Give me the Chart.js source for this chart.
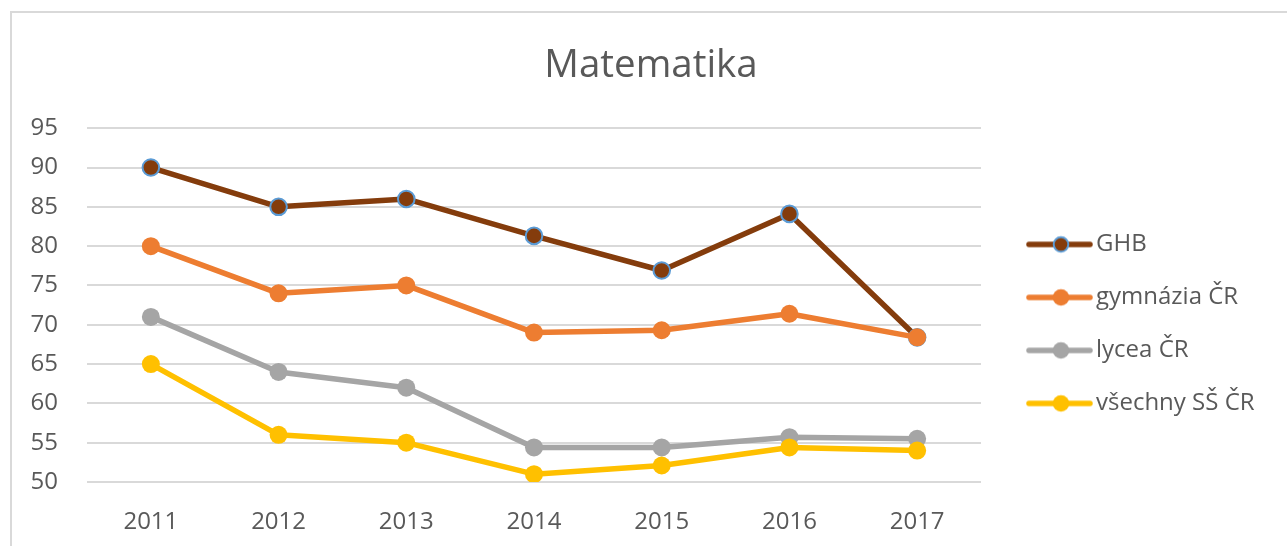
<!DOCTYPE html>
<html lang="cs">

<head>
    <meta charset="UTF-8">
    <title>Matematika</title>
    <script src="https://cdn.jsdelivr.net/npm/chart.js"></script>
    <style>
        html, body { margin: 0; padding: 0; background: #fff; }
        .frame {
            position: absolute; left: 10px; top: 11px; width: 1400px; height: 600px;
            border-left: 2px solid #d9d9d9; border-top: 2px solid #d9d9d9;
        }
        .wrap { position: absolute; left: 0; top: 0; width: 1287px; height: 546px; }
    </style>
</head>

<body>
    <div class="frame"></div>
    <div class="wrap">
        <canvas id="myChart" width="1287" height="546"></canvas>
    </div>

    <script>
        // data
        const years = ['2011', '2012', '2013', '2014', '2015', '2016', '2017'];
        const ghb = [90, 85, 86, 81.3, 76.9, 84.1, 68.4];
        const gymnazia = [80, 74, 75, 69, 69.3, 71.4, 68.4];
        const lycea = [71, 64, 62, 54.4, 54.4, 55.7, 55.5];
        const vsechnySS = [65, 56, 55, 51, 52.1, 54.4, 54];
        const seriesNames = ['GHB', 'gymnázia ČR', 'lycea ČR', 'všechny SŠ ČR'];
        const yMin = 50, yMax = 95, yStep = 5;

        const colors = ['#843C0C', '#ED7D31', '#A5A5A5', '#FFC000'];
        const textColor = '#595959';
        const font = "'Open Sans', 'DejaVu Sans', sans-serif";

        // small line + marker picture for the legend
        function legendIcon(color, ring) {
            const c = document.createElement('canvas');
            c.width = 92;
            c.height = 22;
            const ctx = c.getContext('2d');
            ctx.strokeStyle = color;
            ctx.lineWidth = 5.5;
            ctx.lineCap = 'round';
            ctx.beginPath();
            ctx.moveTo(28, 11);
            ctx.lineTo(89, 11);
            ctx.stroke();
            ctx.beginPath();
            ctx.arc(60, 11, ring ? 7.3 : 8.3, 0, Math.PI * 2);
            ctx.fillStyle = color;
            ctx.fill();
            if (ring) {
                ctx.lineWidth = 2;
                ctx.strokeStyle = ring;
                ctx.stroke();
            }
            return c;
        }

        const icons = [
            legendIcon(colors[0], '#5B9BD5'),
            legendIcon(colors[1]),
            legendIcon(colors[2]),
            legendIcon(colors[3])
        ];

        function makeSet(i, values) {
            return {
                label: seriesNames[i],
                data: values,
                borderColor: colors[i],
                backgroundColor: colors[i],
                borderWidth: 5.5,
                borderCapStyle: 'round',
                borderJoinStyle: 'round',
                tension: 0,
                fill: false,
                pointRadius: i === 0 ? 8.3 : 9,
                pointBackgroundColor: colors[i],
                pointBorderColor: i === 0 ? '#5B9BD5' : colors[i],
                pointBorderWidth: i === 0 ? 2 : 0,
                order: 4 - i
            };
        }

        const myChart = new Chart(document.getElementById('myChart'), {
            type: 'line',
            data: {
                labels: years,
                datasets: [
                    makeSet(0, ghb),
                    makeSet(1, gymnazia),
                    makeSet(2, lycea),
                    makeSet(3, vsechnySS)
                ]
            },
            options: {
                responsive: false,
                animation: false,
                layout: { padding: { left: 26, right: 11, top: 0, bottom: 0 } },
                scales: {
                    x: {
                        offset: true,
                        grid: { display: false },
                        border: { display: false },
                        ticks: { color: textColor, font: { family: font, size: 24 }, padding: 18 },
                        afterFit: (scale) => { scale.height = 64; }
                    },
                    y: {
                        min: yMin,
                        max: yMax,
                        border: { display: false },
                        grid: { color: '#d9d9d9', lineWidth: 2, drawTicks: false },
                        ticks: { stepSize: yStep, color: textColor, font: { family: font, size: 24 }, padding: 29 },
                        afterFit: (scale) => { scale.width = 61; }
                    }
                },
                plugins: {
                    title: {
                        display: true,
                        text: 'Matematika',
                        color: textColor,
                        font: { family: font, size: 38.5, weight: 'normal' },
                        padding: { top: 43, bottom: 39 }
                    },
                    legend: {
                        position: 'right',
                        fullSize: false,
                        maxWidth: 295,
                        title: { display: true, text: '', font: { size: 10 }, padding: { top: 25.6, bottom: 0 } },
                        labels: {
                            usePointStyle: true,
                            pointStyleWidth: 74,
                            padding: 29,
                            color: textColor,
                            font: { family: font, size: 24 },
                            sort: (a, b) => a.datasetIndex - b.datasetIndex,
                            generateLabels: (chart) => {
                                const items = Chart.defaults.plugins.legend.labels.generateLabels(chart);
                                items.forEach((item) => {
                                    item.pointStyle = icons[item.datasetIndex];
                                    item.text = item.text + '\u2002'; // keeps some room on the right
                                });
                                return items;
                            }
                        }
                    },
                    tooltip: { enabled: false }
                }
            }
        });
    </script>

</body>

</html>
